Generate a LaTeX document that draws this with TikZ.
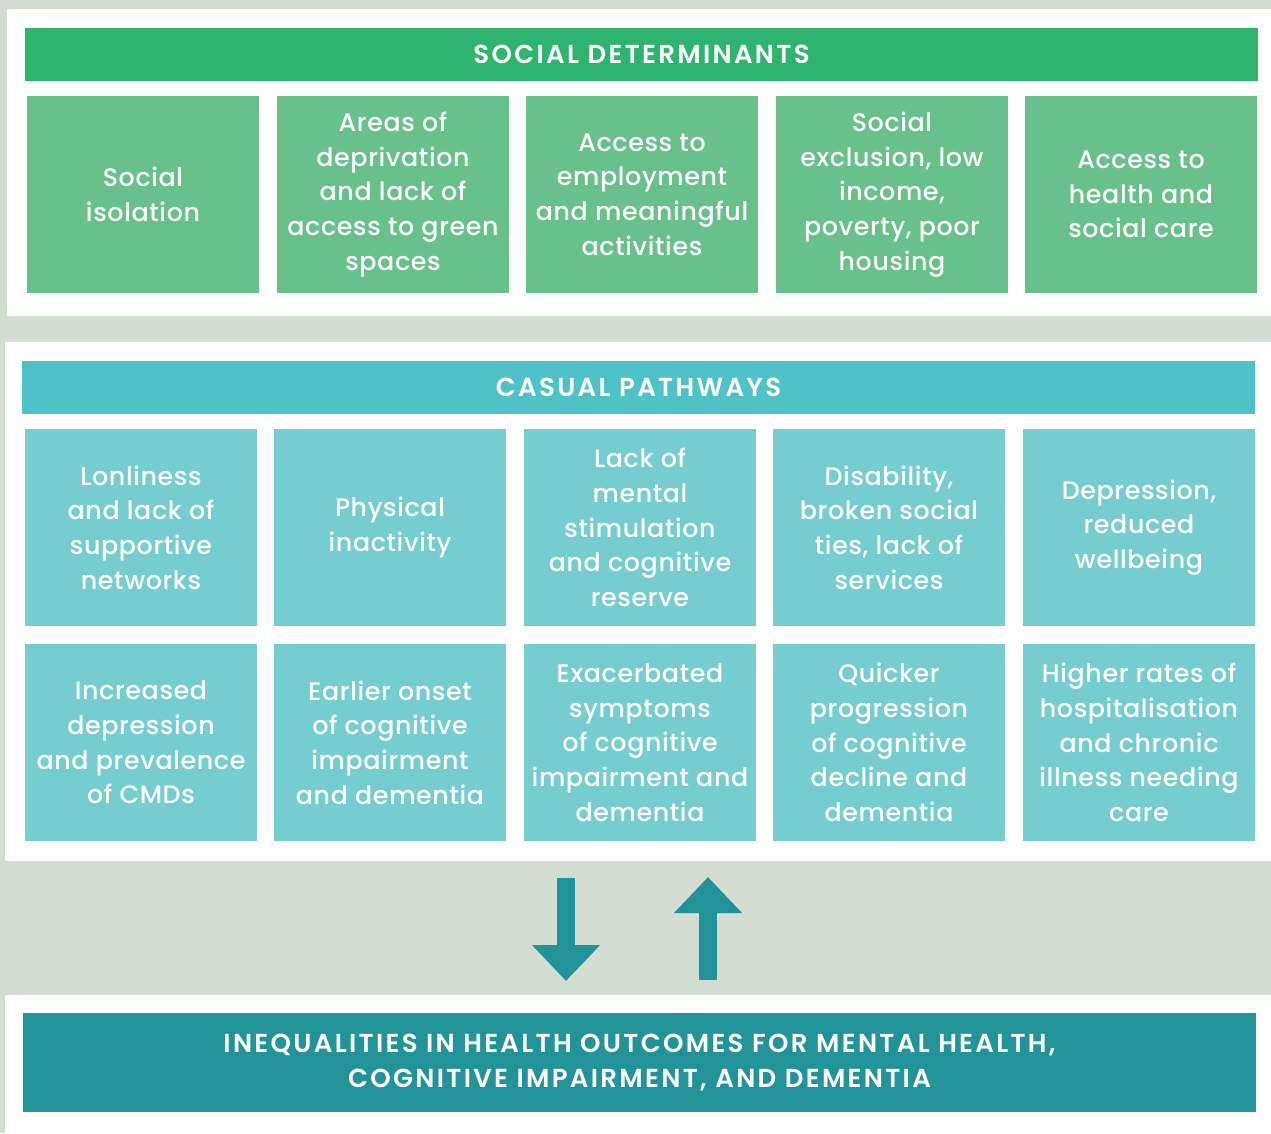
\documentclass[tikz,border=0pt]{standalone}
\usepackage{fontspec}
\setmainfont{Poppins}
\newfontfamily\cellfont[LetterSpace=2.5, UprightFont=* Medium]{Poppins}
\newfontfamily\headfont[LetterSpace=9, UprightFont=* SemiBold]{Poppins}
\usetikzlibrary{arrows.meta}

\definecolor{paneBg}{HTML}{D3DDD2}
\definecolor{sdHead}{HTML}{2EB46E}
\definecolor{sdBox}{HTML}{68C18B}
\definecolor{cpHead}{HTML}{4FC1C8}
\definecolor{cpBox}{HTML}{76CDD0}
\definecolor{outTeal}{HTML}{229398}

\tikzset{
  cell/.style={minimum width=232*0.75pt, minimum height=197*0.75pt, inner sep=0pt,
    text=white, align=center, font=\cellfont\fontsize{19}{26}\selectfont},
  headbar/.style={minimum width=1233*0.75pt, minimum height=53*0.75pt, inner sep=0pt,
    text=white, align=center, font=\headfont\fontsize{19.5}{26}\selectfont},
  fatarrow/.style={outTeal, line width=18*0.75pt,
    -{Triangle[width=66*0.75pt, length=36*0.75pt]}}
}

\begin{document}
\begin{tikzpicture}[x=0.75pt, y=-0.75pt]
            % Background and white panels
            \fill[paneBg] (0,0) rectangle (1271,1133);
            \useasboundingbox (0,0) rectangle (1271,1133);
            \fill[white] (7,9) rectangle (1271,316);
            \fill[white] (5,342) rectangle (1271,861);
            \fill[white] (5,995) rectangle (1271,1133);

            % Social determinants
            \node[headbar, fill=sdHead] (sdhead) at (641.5,54.5) {SOCIAL DETERMINANTS};
            \foreach \i/\x/\t in {1/143/{Social\\isolation},
                2/393/{Areas of\\deprivation\\and lack of\\access to green\\spaces},
                3/642/{Access to\\employment\\and meaningful\\activities},
                4/892/{Social\\exclusion, low\\income,\\poverty, poor\\housing},
                5/1141/{Access to\\health and\\social care}} {
                \node[cell, fill=sdBox] (sd\i) at (\x,194.5) {\t};
            }

            % Casual pathways
            \node[headbar, fill=cpHead] (cphead) at (638.5,387.5) {CASUAL PATHWAYS};
            \foreach \i/\x/\t in {1/141/{Lonliness\\and lack of\\supportive\\networks},
                2/390/{Physical\\inactivity},
                3/640/{Lack of\\mental\\stimulation\\and cognitive\\reserve},
                4/889/{Disability,\\broken social\\ties, lack of\\services},
                5/1139/{Depression,\\reduced\\wellbeing}} {
                \node[cell, fill=cpBox] (cp\i) at (\x,527.5) {\t};
            }
            \foreach \i/\x/\t in {1/141/{Increased\\depression\\and prevalence\\of CMDs},
                2/390/{Earlier onset\\of cognitive\\impairment\\and dementia},
                3/640/{Exacerbated\\symptoms\\of cognitive\\impairment and\\dementia},
                4/889/{Quicker\\progression\\of cognitive\\decline and\\dementia},
                5/1139/{Higher rates of\\hospitalisation\\and chronic\\illness needing\\care}} {
                \node[cell, fill=cpBox] (co\i) at (\x,742.5) {\t};
            }

            % Outcomes
            \node[headbar, fill=outTeal, minimum height=99*0.75pt] (outcome) at (639.5,1062.5)
                {INEQUALITIES IN HEALTH OUTCOMES FOR MENTAL HEALTH,\\COGNITIVE IMPAIRMENT, AND DEMENTIA};

            % Two-way arrows
            \coordinate (dtop) at (566,878);
            \coordinate (dbot) at (566,981);
            \coordinate (ubot) at (708,980);
            \coordinate (utop) at (708,877);
            \draw[fatarrow] (dtop) -- (dbot);
            \draw[fatarrow] (ubot) -- (utop);

        \end{tikzpicture}
\end{document}
